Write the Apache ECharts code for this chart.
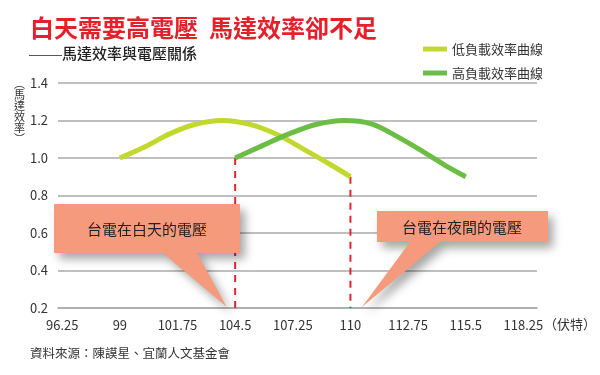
<!DOCTYPE html>
<html>
<head>
<meta charset="utf-8">
<style>
html,body{margin:0;padding:0;background:#fff;}
#c{width:600px;height:375px;}
</style>
<script src="https://cdn.jsdelivr.net/npm/echarts@6/dist/echarts.min.js"></script>
</head>
<body>
<div id="c"></div>
<script>
var FONT = '"Noto Sans CJK TC","Noto Sans",sans-serif';
var xTicks = [96.25, 99, 101.75, 104.5, 107.25, 110, 112.75, 115.5, 118.25];
var yTicks = [0.2, 0.4, 0.6, 0.8, 1.0, 1.2, 1.4];
var seriesNames = ['低負載效率曲線', '高負載效率曲線'];
var lowLoad = [[99,1.0],[100.2,1.06],[101.4,1.13],[102.6,1.18],[103.9,1.2],[105.2,1.179],[106.5,1.125],[107.8,1.045],[109,0.968],[110,0.9]];
var highLoad = [[104.5,1.0],[105.8,1.066],[107.1,1.13],[108.4,1.18],[109.7,1.2],[111,1.182],[112.3,1.11],[113.6,1.025],[114.6,0.955],[115.5,0.9]];
var dayVoltage = [[104.5,1.0],[104.5,0.2]];
var nightVoltage = [[110,0.9],[110,0.2]];
var calloutTexts = ['台電在白天的電壓', '台電在夜間的電壓'];
var calloutTips = [[104.1,0.2],[110.55,0.2]];

var chart = echarts.init(document.getElementById('c'), null, {renderer:'canvas'});
var option = {
  backgroundColor:'#fff',
  animation:false,
  textStyle:{fontFamily:FONT},
  grid:{left:58, right:63, top:83, bottom:67, containLabel:false},
  legend:{
    orient:'vertical', left:418, top:37, itemWidth:24, itemHeight:5, itemGap:10,
    icon:'rect',
    textStyle:{fontFamily:FONT, fontSize:13, color:'#333', lineHeight:14},
    data:seriesNames
  },
  xAxis:{
    type:'value', min:96.05, max:118.9,
    axisLine:{show:true, lineStyle:{color:'#aaa', width:1.5}},
    axisTick:{show:false},
    splitLine:{show:false},
    axisLabel:{customValues:xTicks, color:'#333', fontSize:13, margin:11, fontFamily:FONT,
      formatter:function(v){return String(Math.round(v*100)/100);}}
  },
  yAxis:{
    type:'value', min:0.2, max:1.4, interval:0.2,
    axisLine:{show:false}, axisTick:{show:false},
    splitLine:{lineStyle:{color:'#aaa', width:1.5}},
    axisLabel:{color:'#333', fontSize:13, margin:10, fontFamily:FONT,
      formatter:function(v){return v.toFixed(1);}}
  },
  series:[
    {name:seriesNames[0], type:'line', data:lowLoad, smooth:0.35, showSymbol:false,
     lineStyle:{color:'#c3d82e', width:5, cap:'butt'}, itemStyle:{color:'#c3d82e'}, z:3},
    {name:seriesNames[1], type:'line', data:highLoad, smooth:0.35, showSymbol:false,
     lineStyle:{color:'#6cbd45', width:5, cap:'butt'}, itemStyle:{color:'#6cbd45'}, z:4},
    {type:'line', data:dayVoltage, showSymbol:false, silent:true,
     lineStyle:{color:'#e3262e', width:2, type:[7,6]}, z:2},
    {type:'line', data:nightVoltage, showSymbol:false, silent:true,
     lineStyle:{color:'#e3262e', width:2, type:[7,6]}, z:2}
  ]
};
chart.setOption(option);

var tipL = chart.convertToPixel({gridIndex:0}, calloutTips[0]);
var tipR = chart.convertToPixel({gridIndex:0}, calloutTips[1]);
var shadow = {shadowBlur:10, shadowColor:'rgba(0,0,0,0.35)', shadowOffsetX:5, shadowOffsetY:6};
var boxColor = '#f59a7c';

chart.setOption({
  graphic:[
    {type:'text', left:30, top:16, style:{text:'白天需要高電壓  馬達效率卻不足', fill:'#e6202b', font:'bold 24px '+FONT}},
    {type:'line', shape:{x1:29, y1:55.5, x2:62, y2:55.5}, style:{stroke:'#555', lineWidth:1}},
    {type:'text', left:62, top:46, style:{text:'馬達效率與電壓關係', fill:'#222', font:'500 15px '+FONT}},
    {type:'text', left:14, top:78, style:{text:'︵\n馬\n達\n效\n率\n︶', fill:'#333', font:'11px '+FONT, lineHeight:11}},
    {type:'text', left:544, top:318, style:{text:'（伏特）', fill:'#333', font:'13px '+FONT}},
    {type:'text', left:30, top:347, style:{text:'資料來源：陳謨星、宜蘭人文基金會', fill:'#333', font:'12.5px '+FONT}},
    {type:'polygon', z:10,
     shape:{points:[[54,204],[240,204],[240,253],[197,253],[tipL[0],tipL[1]-1],[163,253],[54,253]]},
     style:Object.assign({fill:boxColor}, shadow)},
    {type:'text', z:11, x:147, y:229, style:{text:calloutTexts[0], fill:'#222', font:'15px '+FONT, align:'center', verticalAlign:'middle'}},
    {type:'polygon', z:10,
     shape:{points:[[377,211],[548,211],[548,242],[440,242],[tipR[0],tipR[1]-1],[410,242],[377,242]]},
     style:Object.assign({fill:boxColor}, shadow)},
    {type:'text', z:11, x:462, y:227, style:{text:calloutTexts[1], fill:'#222', font:'15px '+FONT, align:'center', verticalAlign:'middle'}}
  ]
});
</script>
</body>
</html>
